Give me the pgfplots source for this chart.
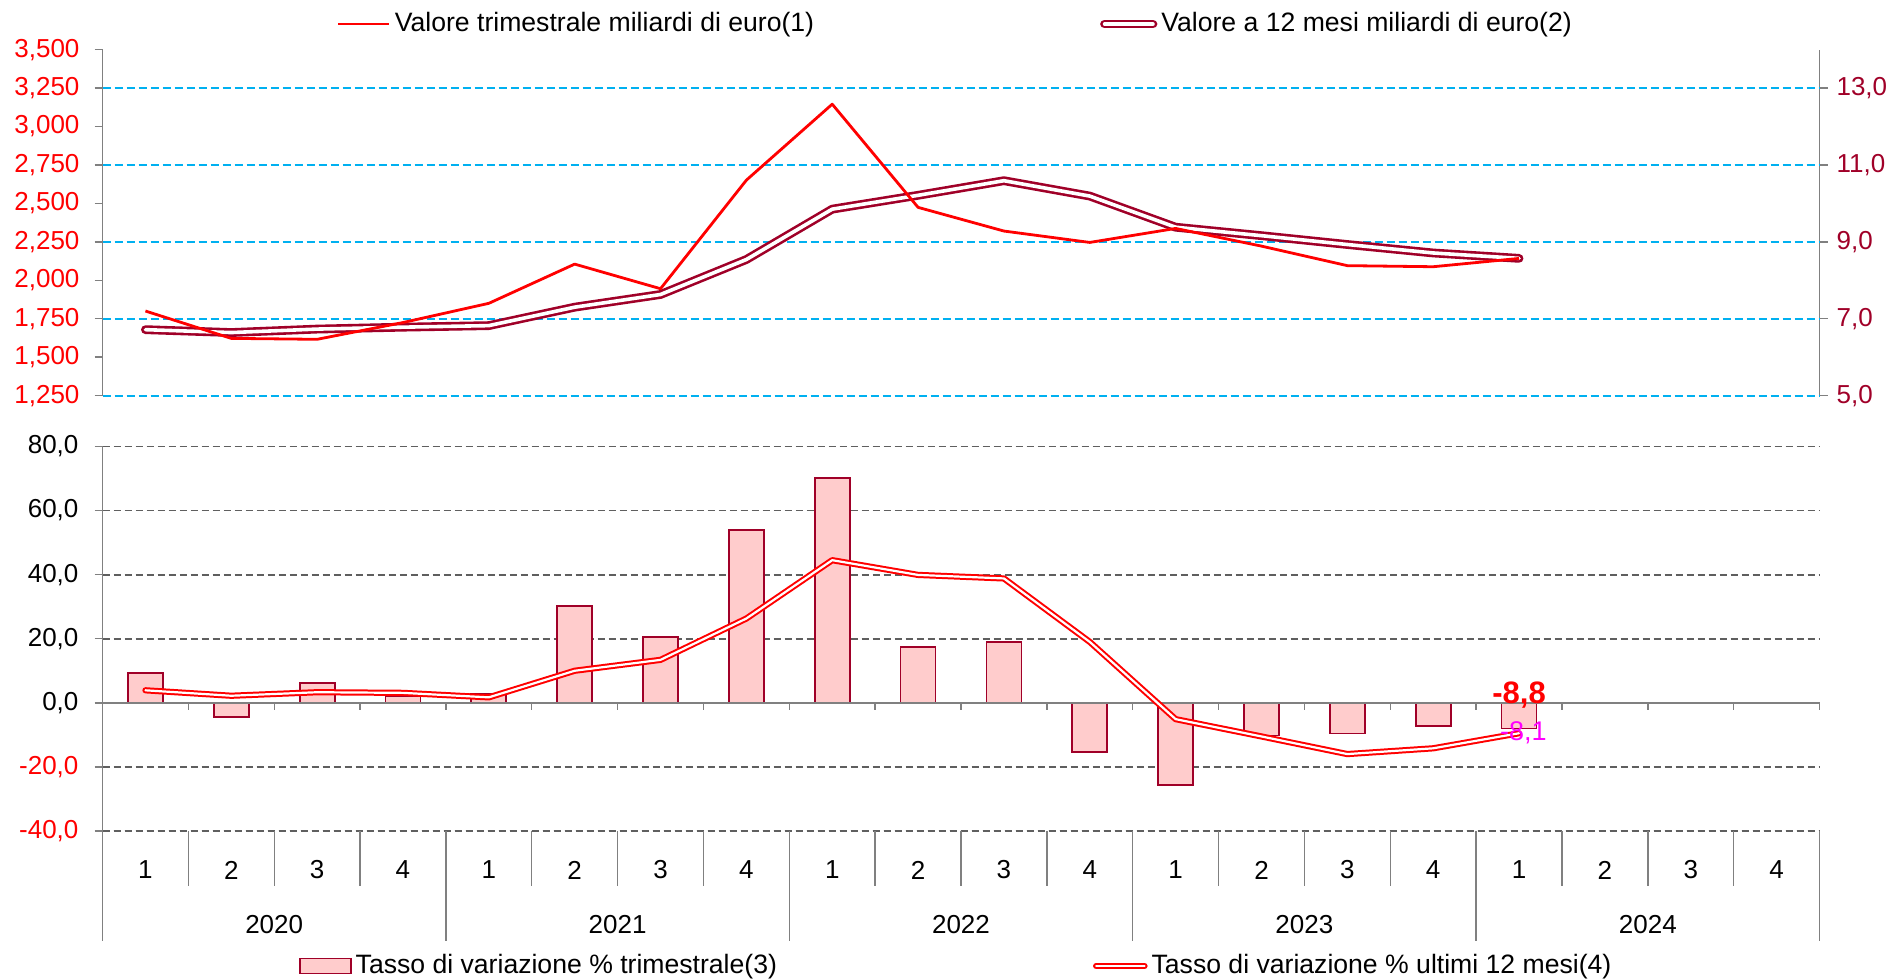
\documentclass[border=0pt]{standalone}
\usepackage{fontspec}
\setmainfont{Liberation Sans}
\usepackage{pgfplots}
\pgfplotsset{compat=1.18}
\definecolor{darkred}{RGB}{160,0,40}
\definecolor{pinkfill}{RGB}{255,204,204}
\definecolor{cyangrid}{RGB}{0,176,240}
\definecolor{gridgray}{RGB}{95,95,95}
\definecolor{axisgray}{RGB}{128,128,128}
\definecolor{magentalbl}{RGB}{255,0,255}
\newcommand{\tf}{\fontsize{13pt}{15pt}\selectfont}
\newcommand{\lf}{\fontsize{13.3pt}{15pt}\selectfont}
\pgfplotsset{
 barlegend/.style={legend image code/.code={\draw[draw=darkred, fill=pinkfill, line width=0.9pt] (0pt,-3.75pt) rectangle (25.5pt,3.75pt);}},
 dbllegend/.style={legend image code/.code={\draw[##1] (0.8pt,0pt) -- (25pt,0pt);}},
}
\begin{document}
\tf
\begin{tikzpicture}
\useasboundingbox (0,0) rectangle (948.5pt,490pt);
% ---------- top chart, right axis (drawn first) ----------
\begin{axis}[
 at={(51.25pt,292.2pt)}, anchor=south west,
 scale only axis, width=858.5pt, height=173pt,
 xmin=-0.5, xmax=19.5, ymin=5, ymax=14,
 axis x line=none, axis y line*=right,
 y axis line style={axisgray, line width=0.7pt, -},
 ytick={5,7,9,11,13},
 yticklabels={{5,0},{7,0},{9,0},{11,0},{13,0}},
 yticklabel style={text=darkred, font=\tf},
 tick align=outside, major tick length=4pt,
 ytick style={axisgray, line width=0.7pt},
 clip=false,
]
\pgfplotsinvokeforeach{5,7,9,11,13}{
 \draw[cyangrid, line width=1pt, dash pattern=on 4pt off 2pt] (axis cs:-0.5,#1) -- (axis cs:19.5,#1);
}
\addplot[darkred, line width=1.3pt, double=white, double distance=1.8pt, line cap=round, line join=round] coordinates {
(0,6.715) (1,6.64) (2,6.73) (3,6.78) (4,6.82) (5,7.30) (6,7.63) (7,8.54)
(8,9.85) (9,10.21) (10,10.59) (11,10.19) (12,9.38) (13,9.16) (14,8.93) (15,8.71) (16,8.57)};
\end{axis}
% ---------- top chart, left axis ----------
\begin{axis}[
 at={(51.25pt,292.2pt)}, anchor=south west,
 scale only axis, width=858.5pt, height=173pt,
 xmin=-0.5, xmax=19.5, ymin=1250, ymax=3500,
 axis x line=none, axis y line*=left,
 y axis line style={axisgray, line width=0.7pt, -},
 ytick={1250,1500,...,3500},
 yticklabels={{1,250},{1,500},{1,750},{2,000},{2,250},{2,500},{2,750},{3,000},{3,250},{3,500}},
 yticklabel style={text=red, font=\tf, xshift=-3pt},
 tick align=outside, major tick length=4pt,
 ytick style={axisgray, line width=0.7pt},
 clip=false,
 legend columns=2,
 legend image code/.code={\draw[#1] (0pt,0pt) -- (25.5pt,0pt);},
 legend style={draw=none, fill=none, inner sep=0pt, outer sep=0pt,
   at={(0.1366,1)}, anchor=west, yshift=12.75pt, font=\lf,
   nodes={inner xsep=2pt, inner ysep=0pt},
   /tikz/every even column/.append style={column sep=141pt}},
]
\addplot[red, line width=1.4pt, line join=round] coordinates {
(0,1800) (1,1622) (2,1616) (3,1725) (4,1850) (5,2105) (6,1945) (7,2651)
(8,3145) (9,2474) (10,2320) (11,2246) (12,2337) (13,2222) (14,2095) (15,2088) (16,2142)};
\addlegendentry{Valore trimestrale miliardi di euro(1)}
\addlegendimage{darkred, line width=1.3pt, double=white, double distance=1.8pt, line cap=round, dbllegend}
\addlegendentry{Valore a 12 mesi miliardi di euro(2)}
\end{axis}
% ---------- bottom chart ----------
\begin{axis}[
 at={(51.25pt,74.5pt)}, anchor=south west,
 scale only axis, width=858.5pt, height=192.3pt,
 xmin=-0.5, xmax=19.5, ymin=-40, ymax=80,
 axis lines*=left,
 x axis line style={gridgray, line width=0.9pt, dash pattern=on 3.5pt off 2pt},
 y axis line style={axisgray, line width=0.7pt, -},
 ytick={-40,-20,...,80},
 yticklabels={{\textcolor{red}{-40,0}},{\textcolor{red}{-20,0}},{0,0},{20,0},{40,0},{60,0},{80,0}},
 yticklabel style={font=\tf, xshift=-3.5pt},
 ymajorgrids, grid style={gridgray, line width=0.9pt, dash pattern=on 3.5pt off 2pt},
 xtick={0,...,19},
 xticklabels={1,2,3,4,1,2,3,4,1,2,3,4,1,2,3,4,1,2,3,4},
 xtick style={draw=none},
 xticklabel style={anchor=center, yshift=-15.5pt, font=\tf},
 tick align=outside, major tick length=4pt,
 ytick style={axisgray, line width=0.7pt},
 clip=false,
 legend columns=2,
 legend style={draw=none, fill=none, inner sep=0pt, outer sep=0pt,
   at={(0.1144,0)}, anchor=west, yshift=-67.5pt, font=\lf,
   nodes={inner xsep=2pt, inner ysep=0pt},
   /tikz/every even column/.append style={column sep=156pt}},
]
\addplot[ybar, bar width=17.5pt, fill=pinkfill, draw=darkred, line width=0.9pt, barlegend]
 coordinates {
(0,9.4) (1,-4.4) (2,6.3) (3,2.0) (4,2.7) (5,30.1) (6,20.5) (7,53.8)
(8,70.2) (9,17.3) (10,19.0) (11,-15.3) (12,-25.6) (13,-10.2) (14,-9.6) (15,-7.3) (16,-8.0)};
\addlegendentry{Tasso di variazione \% trimestrale(3)}
\draw[axisgray, line width=0.9pt] (axis cs:-0.5,0) -- (axis cs:19.5,0);
\pgfplotsinvokeforeach{0.5,1.5,2.5,3.5,4.5,5.5,6.5,7.5,8.5,9.5,10.5,11.5,12.5,13.5,14.5,15.5,16.5,17.5,18.5,19.5}{
 \draw[axisgray, line width=0.7pt] (axis cs:#1,0) -- ++(0pt,-3.5pt);
 \draw[axisgray, line width=0.7pt] (axis cs:#1,-40) -- ++(0pt,-27.5pt);
}
\pgfplotsinvokeforeach{-0.5,3.5,7.5,11.5,15.5,19.5}{
 \draw[axisgray, line width=0.7pt] (axis cs:#1,-40) -- ++(0pt,-55pt);
}
\node[font=\tf] at (axis cs:1.5,-40) [yshift=-47pt] {2020};
\node[font=\tf] at (axis cs:5.5,-40) [yshift=-47pt] {2021};
\node[font=\tf] at (axis cs:9.5,-40) [yshift=-47pt] {2022};
\node[font=\tf] at (axis cs:13.5,-40) [yshift=-47pt] {2023};
\node[font=\tf] at (axis cs:17.5,-40) [yshift=-47pt] {2024};
\addplot[red, line width=1pt, double=white, double distance=1.1pt, line cap=round, line join=round, dbllegend] coordinates {
(0,3.9) (1,2.2) (2,3.3) (3,3.1) (4,1.7) (5,10.0) (6,13.4) (7,26.3)
(8,44.5) (9,39.9) (10,38.8) (11,19.0) (12,-5.1) (13,-10.5) (14,-16.0) (15,-14.2) (16,-9.5)};
\addlegendentry{Tasso di variazione \% ultimi 12 mesi(4)}
\node[text=red, font=\bfseries\fontsize{15.5pt}{17pt}\selectfont] at (axis cs:16,2.4) {-8,8};
\node[text=magentalbl, font=\fontsize{13.5pt}{15pt}\selectfont] at (axis cs:16.05,-9.3) {-8,1};
\end{axis}
\end{tikzpicture}
\end{document}
